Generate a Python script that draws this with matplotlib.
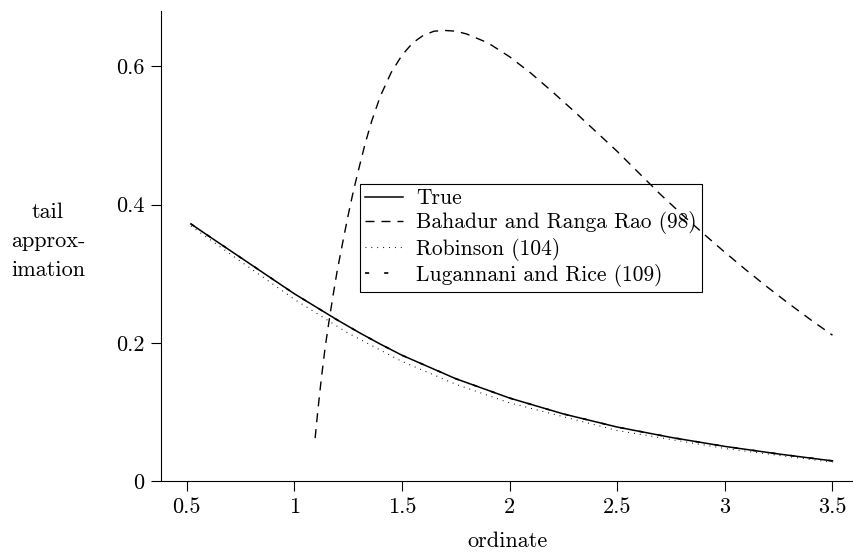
import matplotlib
matplotlib.use("Agg")
import matplotlib.pyplot as plt

plt.rcParams['font.family'] = ['cmr10', 'DejaVu Serif']
plt.rcParams['axes.formatter.use_mathtext'] = True
plt.rcParams['font.size'] = 16

# exact tail probability
x_true = [0.52, 0.6, 0.7, 0.8, 0.9, 1.0, 1.1, 1.2, 1.3, 1.4, 1.5,
          1.75, 2.0, 2.25, 2.5, 2.75, 3.0, 3.25, 3.5]
y_true = [0.372, 0.355, 0.334, 0.313, 0.292, 0.271, 0.252, 0.233, 0.215,
          0.198, 0.182, 0.148, 0.120, 0.097, 0.078, 0.063, 0.050, 0.039,
          0.029]

# Bahadur and Ranga Rao (98)
x_brr = [1.097, 1.11, 1.125, 1.143, 1.16, 1.18, 1.20, 1.225, 1.25, 1.275,
         1.30, 1.33, 1.36, 1.40, 1.45, 1.50, 1.55, 1.60, 1.65, 1.70, 1.75,
         1.80, 1.90, 2.00, 2.10, 2.20, 2.30, 2.40, 2.50, 2.60, 2.70, 2.80,
         2.90, 3.00, 3.10, 3.20, 3.30, 3.40, 3.50]
y_brr = [0.062, 0.103, 0.146, 0.192, 0.228, 0.268, 0.305, 0.345, 0.384,
         0.420, 0.452, 0.489, 0.521, 0.557, 0.591, 0.616, 0.634, 0.645,
         0.651, 0.652, 0.651, 0.647, 0.634, 0.614, 0.590, 0.563, 0.535,
         0.506, 0.477, 0.446, 0.415, 0.386, 0.358, 0.331, 0.305, 0.280,
         0.256, 0.233, 0.211]

# Robinson (104)
x_rob = [0.52, 0.75, 1.0, 1.25, 1.5, 1.75, 2.0, 2.5, 3.0, 3.5]
y_rob = [0.369, 0.318, 0.263, 0.214, 0.173, 0.140, 0.113, 0.073, 0.047,
         0.027]

# Lugannani and Rice (109)
x_lr = x_true
y_lr = [0.372, 0.355, 0.334, 0.313, 0.292, 0.271, 0.252, 0.233, 0.215,
        0.198, 0.182, 0.148, 0.120, 0.097, 0.078, 0.063, 0.050, 0.039,
        0.029]

xticks = [0.5, 1, 1.5, 2, 2.5, 3, 3.5]
xtick_labels = ['0.5', '1', '1.5', '2', '2.5', '3', '3.5']
yticks = [0, 0.2, 0.4, 0.6]
ytick_labels = ['0', '0.2', '0.4', '0.6']

fig = plt.figure(figsize=(8.54, 5.56), dpi=100)
ax = fig.add_axes([0.1885, 0.135, 0.8115, 0.845])

ax.plot(x_true, y_true, color='black', lw=1.1, label='True')
ax.plot(x_brr, y_brr, color='black', lw=1.0, linestyle=(0, (6.5, 5)),
        label='Bahadur and Ranga Rao (98)')
ax.plot(x_rob, y_rob, color='black', lw=0.8, linestyle=(0, (0.8, 4.5)),
        label='Robinson (104)')
ax.plot(x_lr, y_lr, color='black', lw=1.2, linestyle=(0, (2.5, 9)),
        label='Lugannani and Rice (109)')

ax.set_xlim(0.381, 3.60)
ax.set_ylim(0, 0.68)
ax.set_xticks(xticks)
ax.set_xticklabels(xtick_labels)
ax.set_yticks(yticks)
ax.set_yticklabels(ytick_labels)

ax.spines['top'].set_visible(False)
ax.spines['right'].set_visible(False)
for s in ['left', 'bottom']:
    ax.spines[s].set_linewidth(0.8)
ax.tick_params(direction='out', length=7, width=0.8, pad=5)

ax.set_xlabel('ordinate', labelpad=10)
fig.text(48 / 854, 1 - 241 / 556, 'tail\napprox-\nimation', ha='center',
         va='center', fontsize=16, linespacing=1.6)

leg = ax.legend(loc='upper left', bbox_to_anchor=(0.287, 0.632),
                fancybox=False, frameon=True, edgecolor='black',
                facecolor='none', framealpha=1, handlelength=1.8,
                handletextpad=0.6, labelspacing=0.15, borderpad=0.22,
                borderaxespad=0, fontsize=15.5)
leg.get_frame().set_linewidth(0.8)

fig.savefig('out.png', dpi=100)
